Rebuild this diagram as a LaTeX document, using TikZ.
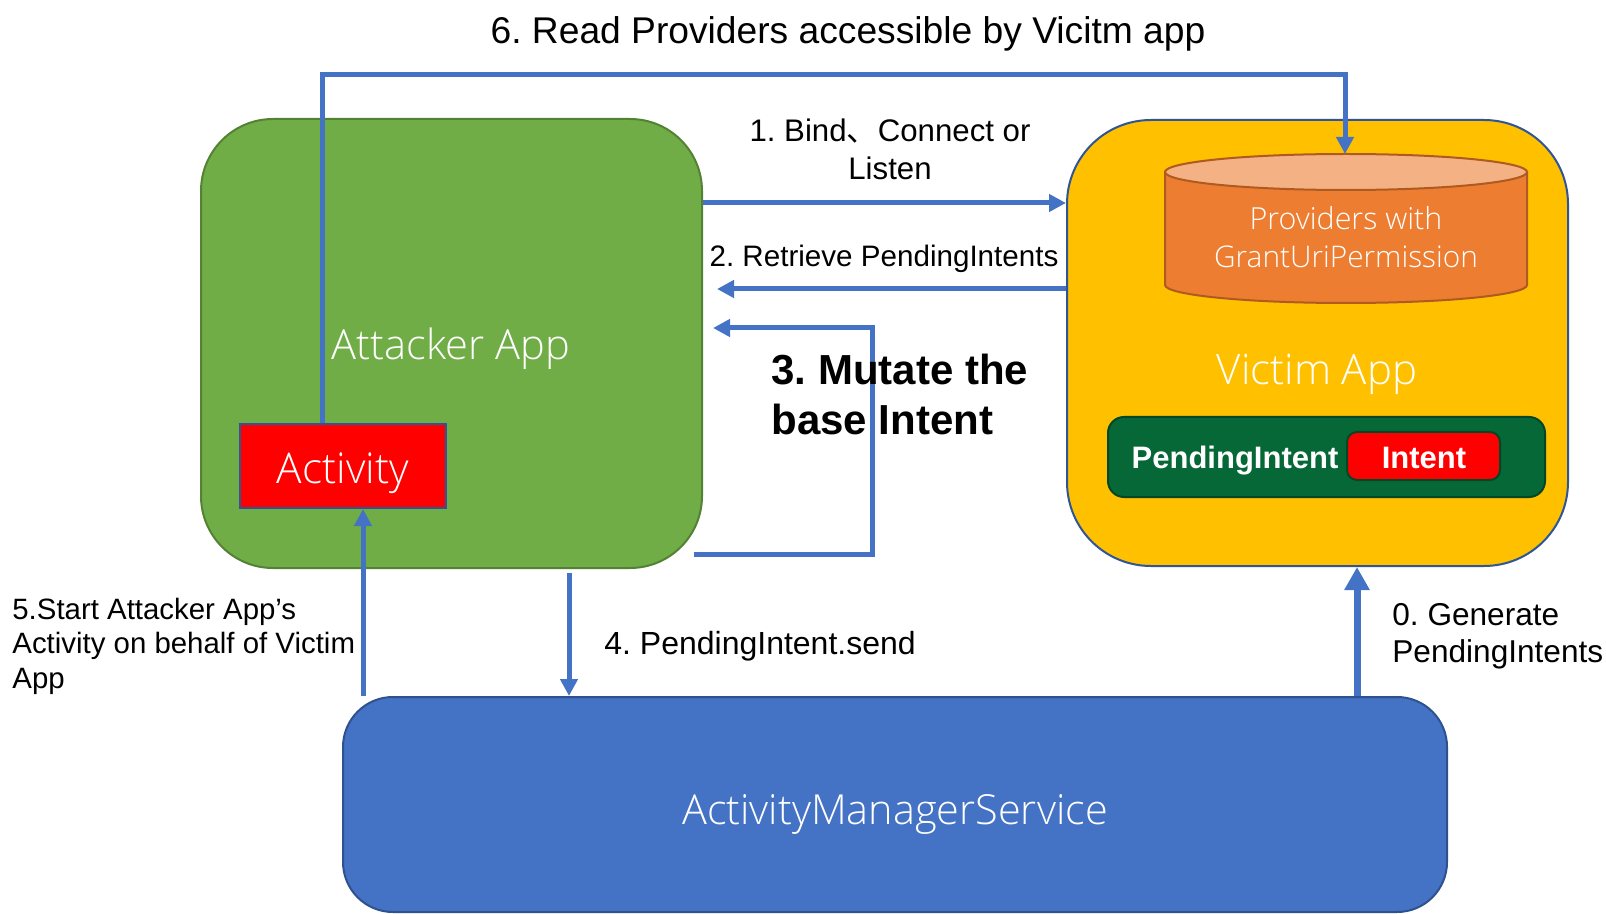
\documentclass[tikz,border=0pt]{standalone}
\usepackage{fontspec}
\setmainfont{Liberation Sans}
\newfontfamily\uifont{Open Sans Light}
\newfontfamily\cjk{Noto Sans CJK SC}
\usetikzlibrary{arrows.meta,calc}
\frenchspacing

\definecolor{flowblue}{RGB}{68,114,196}
\definecolor{amsborder}{RGB}{47,82,143}
\definecolor{attgreen}{RGB}{112,173,71}
\definecolor{attborder}{RGB}{84,130,53}
\definecolor{vicyellow}{RGB}{255,192,0}
\definecolor{vicborder}{RGB}{47,85,151}
\definecolor{dbbody}{RGB}{237,125,49}
\definecolor{dbtop}{RGB}{244,177,131}
\definecolor{dbborder}{RGB}{174,90,33}
\definecolor{pigreen}{RGB}{6,104,55}
\definecolor{piborder}{RGB}{4,70,37}

\tikzset{
  box/.style={draw, line width=1pt, inner sep=0pt, minimum width=#1},
  flow/.style={draw=flowblue, line width=2.5pt, -{Triangle[length=8.5pt,width=8.5pt]}},
  flowthick/.style={draw=flowblue, line width=3.5pt, -{Triangle[length=11.5pt,width=12pt]}},
  lbl/.style={inner sep=0pt, font=\fontsize{15}{18}\selectfont},
  ui/.style={inner sep=0pt, text=white},
}

\begin{document}
\begin{tikzpicture}[x=0.5pt, y=-0.5pt]
\useasboundingbox (0,0) rectangle (1606,914);
\fill[white] (0,0) rectangle (1606,914);

% main containers
\node[box=250.5pt, minimum height=224.5pt, rounded corners=36pt, fill=attgreen, draw=attborder] (att) at (451.5,343.5) {};
\node[box=250.5pt, minimum height=223pt, rounded corners=42pt, fill=vicyellow, draw=vicborder] (vic) at (1317.5,343) {};
\node[box=552pt, minimum height=107.5pt, rounded corners=25pt, fill=flowblue, draw=amsborder] (ams) at (895,804.5) {};

% activity inside the attacker app
\node[box=103pt, minimum height=42pt, fill=red, draw=vicborder] (act) at (343,466) {};
\node[ui, anchor=base, font=\uifont\fontsize{21.2}{24}\selectfont] (acttxt) at (343,483) {Activity};
\node[ui, anchor=base, font=\uifont\fontsize{20.8}{24}\selectfont] (atttxt) at (451,360) {Attacker App};

% provider database
\path[fill=dbbody, draw=dbborder, line width=1pt]
  (1165,172) -- (1165,285) arc[start angle=180, end angle=0, x radius=181, y radius=18] -- (1527,172) -- cycle;
\path[fill=dbtop, draw=dbborder, line width=1pt] (1346,172) ellipse[x radius=181, y radius=18];
\coordinate (db) at (1345,154);
\node[ui, anchor=base, font=\uifont\fontsize{15.2}{18}\selectfont] (db1) at (1346,230) {Providers with};
\node[ui, anchor=base, font=\uifont\fontsize{14.9}{18}\selectfont] (db2) at (1346,268) {GrantUriPermission};

\node[ui, anchor=base, font=\uifont\fontsize{21}{24}\selectfont] (victxt) at (1317,385) {Victim App};

% pending intent wrapping the base intent
\node[box=218.5pt, minimum height=40pt, rounded corners=8pt, fill=pigreen, draw=piborder] (pend) at (1326.5,457) {};
\node[box=76.5pt, minimum height=24pt, rounded corners=5pt, fill=red, draw=piborder] (intent) at (1423.5,456) {};
\node[ui, anchor=base, font=\bfseries\fontsize{15.5}{18}\selectfont] (pendtxt) at (1235,468) {PendingIntent};
\node[ui, anchor=base, font=\bfseries\fontsize{15.5}{18}\selectfont] (intenttxt) at (1424,468) {Intent};

\node[ui, anchor=base, font=\uifont\fontsize{20.7}{24}\selectfont] (amstxt) at (895,824) {ActivityManagerService};

% helper coordinates for connector rows and columns
\coordinate (y1) at (0,203);
\coordinate (y2) at (0,289);
\coordinate (y3) at (0,328);
\coordinate (m3) at (872,554);
\coordinate (x4) at (569,0);
\coordinate (x5) at (363,0);
\coordinate (x0) at (1357,0);
\coordinate (r6) at (1345,75);

% step 6: read providers
\draw[flow] ($(act.north west)!0.4!(act.north east)$) |- (r6) -- (db);
% step 1: bind
\draw[flow] (att.east |- y1) -- (vic.west |- y1);
% step 2: retrieve
\draw[flow] (vic.west |- y2) -- ([xshift=7pt]att.east |- y2);
% step 3: mutate loop
\draw[flow] ([xshift=-4.5pt]att.east |- m3) -- (m3) |- ([xshift=5pt]att.east |- y3);
% step 4: send
\draw[flow] ([yshift=-2pt]att.south -| x4) -- (ams.north -| x4);
% step 5: start activity
\draw[flow] (ams.north -| x5) -- (act.south -| x5);
% step 0: generate
\draw[flowthick] (ams.north -| x0) -- (vic.south -| x0);

% labels
\node[inner sep=0pt, anchor=base, font=\fontsize{18.6}{22}\selectfont] (title) at (848,44) {6. Read Providers accessible by Vicitm app};
\node[lbl, anchor=base, font=\fontsize{15.6}{18}\selectfont] (l1a) at (890,142) {1. Bind{\cjk 、}Connect or};
\node[lbl, anchor=base, font=\fontsize{15.6}{18}\selectfont] (l1b) at (890,180) {Listen};
\node[lbl, anchor=base, font=\fontsize{14.8}{18}\selectfont] (l2) at (884,267) {2. Retrieve PendingIntents};
\node[inner sep=0pt, anchor=base west, font=\bfseries\fontsize{21}{24}\selectfont] (l3a) at (771,385) {3. Mutate the};
\node[inner sep=0pt, anchor=base west, font=\bfseries\fontsize{21}{24}\selectfont] (l3b) at (771,435) {base Intent};
\node[lbl, anchor=base west, font=\fontsize{16}{18}\selectfont] (l4) at (604,654) {4. PendingIntent.send};
\node[lbl, anchor=base west, font=\fontsize{14.7}{18}\selectfont] (l5a) at (12,619) {5.Start Attacker App’s};
\node[lbl, anchor=base west, font=\fontsize{14.7}{18}\selectfont] (l5b) at (12,653) {Activity on behalf of Victim};
\node[lbl, anchor=base west, font=\fontsize{14.7}{18}\selectfont] (l5c) at (12,688) {App};
\node[lbl, anchor=base west, font=\fontsize{15.8}{18}\selectfont] (l0a) at (1392,625) {0. Generate};
\node[lbl, anchor=base west, font=\fontsize{15.8}{18}\selectfont] (l0b) at (1392,662) {PendingIntents};
\end{tikzpicture}
\end{document}
